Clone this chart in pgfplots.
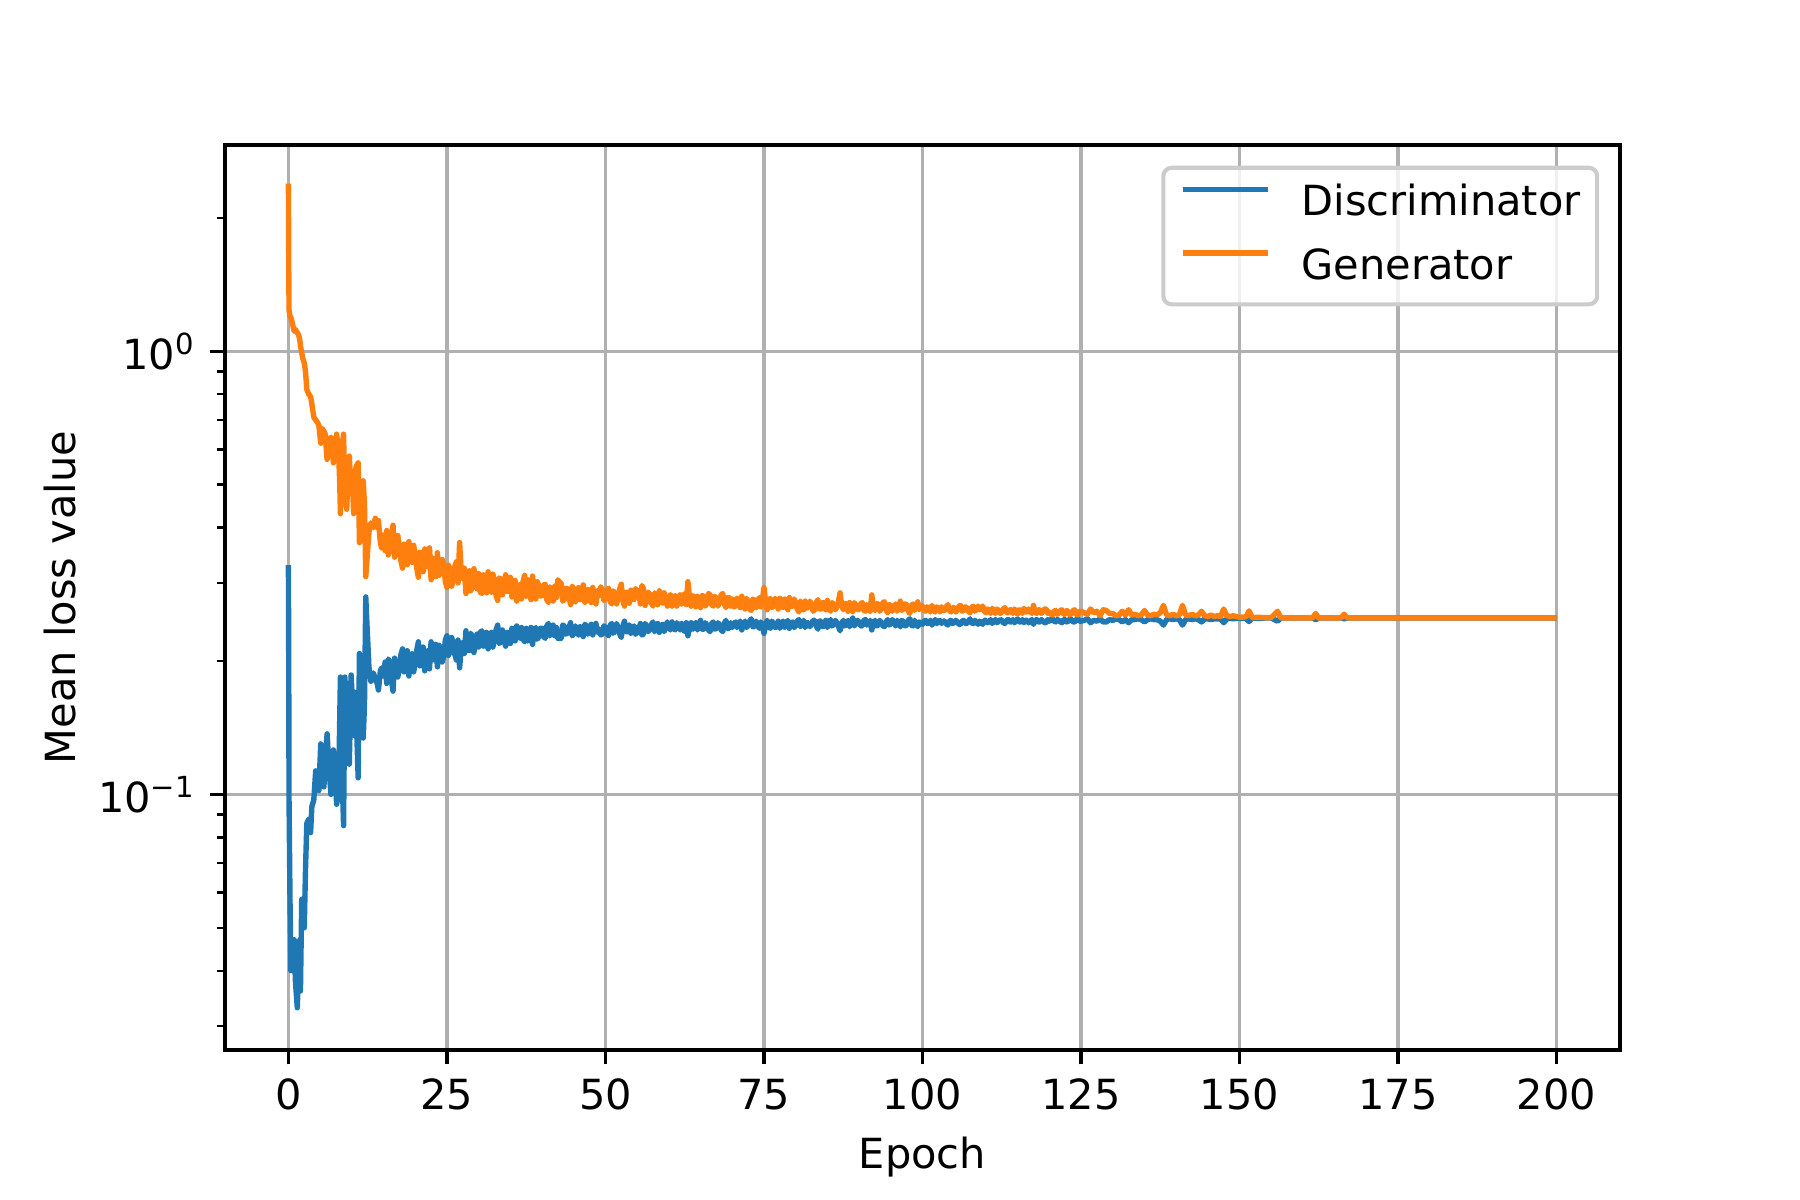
\documentclass[border=0pt]{standalone}
\usepackage{fontspec}
\setmainfont{DejaVu Sans}
\usepackage{pgfplots}
\usepackage{pgfplotstable}
\pgfplotsset{compat=1.18}
\definecolor{c0}{HTML}{1F77B4}
\definecolor{c1}{HTML}{FF7F0E}
\definecolor{gridc}{HTML}{B0B0B0}
\definecolor{legc}{HTML}{CCCCCC}

\pgfplotstableread{
e D G
0.00 0.329 2.39
0.05 0.200 1.60
0.10 0.097 1.24
0.25 0.058 1.20
0.40 0.040 1.19
0.60 0.044 1.16
0.90 0.047 1.11
1.10 0.038 1.12
1.40 0.033 1.10
1.60 0.040 1.09
1.80 0.047 1.06
1.90 0.036 1.03
2.10 0.058 0.99
2.30 0.054 0.96
2.50 0.050 0.94
2.70 0.068 0.90
2.90 0.086 0.82
3.20 0.088 0.80
3.50 0.082 0.79
3.70 0.094 0.76
4.00 0.097 0.71
4.30 0.113 0.70
4.60 0.110 0.69
4.80 0.102 0.68
5.10 0.130 0.62
5.30 0.118 0.67
5.60 0.104 0.66
5.80 0.120 0.65
6.10 0.137 0.57
6.40 0.115 0.63
6.70 0.100 0.64
6.90 0.110 0.60
7.10 0.126 0.56
7.40 0.112 0.62
7.60 0.095 0.65
7.90 0.100 0.60
8.10 0.150 0.50
8.20 0.184 0.43
8.40 0.120 0.60
8.70 0.085 0.65
8.90 0.184 0.47
9.20 0.150 0.44
9.40 0.178 0.55
9.60 0.117 0.58
9.90 0.186 0.48
10.10 0.160 0.50
10.30 0.136 0.43
10.50 0.170 0.53
10.70 0.150 0.55
11.00 0.109 0.56
11.20 0.208 0.37
11.40 0.150 0.47
11.60 0.160 0.50
11.80 0.134 0.51
12.00 0.160 0.45
12.20 0.279 0.31
12.40 0.240 0.34
12.70 0.194 0.39
13.00 0.180 0.41
13.40 0.188 0.40
13.70 0.182 0.42
14.00 0.178 0.40
14.20 0.172 0.415
14.50 0.190 0.37
14.70 0.193 0.36
15.00 0.185 0.385
15.25 0.199 0.355
15.50 0.178 0.394
15.75 0.202 0.347
16.00 0.199 0.358
16.25 0.181 0.387
16.50 0.171 0.405
16.75 0.203 0.343
17.00 0.194 0.365
17.25 0.184 0.384
17.50 0.192 0.360
17.75 0.207 0.336
18.00 0.213 0.324
18.25 0.189 0.367
18.50 0.197 0.353
18.75 0.211 0.330
19.00 0.185 0.372
19.25 0.205 0.341
19.50 0.208 0.334
19.75 0.189 0.365
20.00 0.198 0.347
20.25 0.212 0.323
20.50 0.221 0.309
20.75 0.195 0.352
21.00 0.202 0.341
21.25 0.215 0.318
21.50 0.190 0.358
21.75 0.206 0.332
22.00 0.211 0.326
22.25 0.192 0.360
22.50 0.221 0.305
22.75 0.201 0.342
23.00 0.202 0.337
23.25 0.218 0.310
23.50 0.194 0.351
23.75 0.217 0.312
24.00 0.212 0.319
24.25 0.199 0.339
24.50 0.205 0.331
24.75 0.223 0.302
25.00 0.228 0.293
25.25 0.206 0.329
25.50 0.210 0.322
25.75 0.226 0.295
26.00 0.219 0.306
26.25 0.207 0.327
26.50 0.201 0.335
26.75 0.223 0.300
27.00 0.193 0.370
27.25 0.213 0.318
27.50 0.220 0.307
27.75 0.208 0.324
28.00 0.234 0.284
28.25 0.212 0.317
28.50 0.211 0.320
28.75 0.231 0.288
29.00 0.227 0.294
29.25 0.209 0.323
29.50 0.218 0.310
29.75 0.230 0.291
30.00 0.215 0.315
30.25 0.232 0.286
30.50 0.234 0.284
30.75 0.216 0.313
31.00 0.225 0.298
31.25 0.232 0.285
31.50 0.213 0.318
31.75 0.226 0.295
32.00 0.232 0.286
32.25 0.215 0.314
32.50 0.224 0.301
32.75 0.235 0.281
33.00 0.241 0.274
33.25 0.219 0.308
33.50 0.221 0.306
33.75 0.235 0.282
34.00 0.225 0.298
34.25 0.216 0.313
34.50 0.232 0.287
34.75 0.225 0.300
35.00 0.219 0.309
35.25 0.237 0.279
35.50 0.232 0.286
35.75 0.222 0.304
36.00 0.240 0.273
36.25 0.228 0.293
36.50 0.225 0.298
36.75 0.238 0.276
37.00 0.224 0.302
37.25 0.221 0.312
37.50 0.237 0.280
37.75 0.222 0.305
38.00 0.230 0.290
38.25 0.238 0.275
38.50 0.218 0.311
38.75 0.234 0.285
39.00 0.238 0.276
39.25 0.224 0.302
39.50 0.227 0.296
39.75 0.237 0.280
40.00 0.237 0.281
40.25 0.227 0.297
40.50 0.225 0.298
40.75 0.240 0.275
41.00 0.243 0.271
41.25 0.228 0.294
41.50 0.231 0.289
41.75 0.241 0.273
42.00 0.228 0.295
42.25 0.238 0.278
42.50 0.225 0.305
42.75 0.225 0.301
43.00 0.225 0.300
43.25 0.241 0.273
43.50 0.240 0.275
43.75 0.230 0.292
44.00 0.231 0.291
44.25 0.238 0.279
44.50 0.244 0.268
44.75 0.228 0.295
45.00 0.230 0.291
45.25 0.240 0.272
45.50 0.235 0.282
45.75 0.229 0.293
46.00 0.239 0.275
46.25 0.232 0.288
46.50 0.227 0.297
46.75 0.242 0.271
47.00 0.240 0.274
47.25 0.230 0.290
47.50 0.235 0.284
47.75 0.242 0.271
48.00 0.229 0.293
48.25 0.237 0.278
48.50 0.243 0.269
48.75 0.232 0.288
49.00 0.236 0.281
49.25 0.229 0.294
49.50 0.230 0.290
49.75 0.240 0.274
50.00 0.238 0.276
50.25 0.230 0.289
50.50 0.228 0.292
50.75 0.241 0.272
51.00 0.243 0.269
51.25 0.231 0.288
51.50 0.234 0.283
51.75 0.243 0.269
52.00 0.238 0.278
52.25 0.230 0.291
52.50 0.226 0.298
52.75 0.240 0.273
53.00 0.246 0.266
53.25 0.233 0.286
53.50 0.233 0.285
53.75 0.241 0.270
54.00 0.231 0.289
54.25 0.238 0.276
54.50 0.240 0.275
54.75 0.230 0.291
55.00 0.238 0.279
55.25 0.232 0.288
55.50 0.243 0.269
55.75 0.229 0.296
56.00 0.230 0.291
56.25 0.243 0.267
56.50 0.240 0.273
56.75 0.233 0.286
57.00 0.236 0.282
57.25 0.242 0.270
57.50 0.245 0.266
57.75 0.233 0.285
58.00 0.236 0.280
58.25 0.243 0.268
58.50 0.232 0.288
58.75 0.240 0.273
59.00 0.242 0.270
59.25 0.233 0.285
59.50 0.238 0.277
59.75 0.245 0.266
60.00 0.239 0.276
60.25 0.235 0.282
60.50 0.245 0.266
60.75 0.237 0.278
61.00 0.235 0.281
61.25 0.244 0.266
61.50 0.240 0.273
61.75 0.235 0.282
62.00 0.243 0.269
62.25 0.236 0.280
62.50 0.233 0.284
62.75 0.244 0.268
63.00 0.228 0.302
63.25 0.237 0.278
63.50 0.244 0.266
63.75 0.236 0.281
64.00 0.237 0.278
64.25 0.244 0.265
64.50 0.235 0.280
64.75 0.240 0.272
65.00 0.247 0.264
65.25 0.236 0.281
65.50 0.236 0.280
65.75 0.244 0.266
66.00 0.241 0.270
66.25 0.235 0.284
66.50 0.233 0.282
66.75 0.243 0.268
67.00 0.245 0.266
67.25 0.236 0.280
67.50 0.237 0.277
67.75 0.244 0.266
68.00 0.241 0.272
68.25 0.235 0.282
68.50 0.233 0.284
68.75 0.243 0.269
69.00 0.247 0.264
69.25 0.237 0.278
69.50 0.237 0.278
69.75 0.244 0.266
70.00 0.238 0.276
70.25 0.243 0.265
70.50 0.245 0.266
70.75 0.238 0.277
71.00 0.242 0.270
71.25 0.246 0.264
71.50 0.235 0.280
71.75 0.242 0.268
72.00 0.246 0.262
72.25 0.238 0.277
72.50 0.241 0.272
72.75 0.246 0.262
73.00 0.249 0.260
73.25 0.239 0.276
73.50 0.239 0.274
73.75 0.246 0.264
74.00 0.241 0.272
74.25 0.237 0.278
74.50 0.245 0.265
74.75 0.239 0.274
75.00 0.231 0.293
75.25 0.241 0.273
75.50 0.247 0.261
75.75 0.239 0.274
76.00 0.237 0.277
76.25 0.246 0.264
76.50 0.243 0.266
76.75 0.238 0.277
77.00 0.239 0.273
77.25 0.246 0.262
77.50 0.237 0.277
77.75 0.243 0.266
78.00 0.246 0.264
78.25 0.238 0.276
78.50 0.242 0.269
78.75 0.247 0.261
79.00 0.237 0.278
79.25 0.243 0.266
79.50 0.245 0.266
79.75 0.238 0.276
80.00 0.240 0.271
80.25 0.246 0.262
80.50 0.248 0.258
80.75 0.239 0.273
81.00 0.242 0.269
81.25 0.247 0.261
81.50 0.238 0.273
81.75 0.244 0.263
82.00 0.244 0.265
82.25 0.239 0.273
82.50 0.243 0.267
82.75 0.247 0.259
83.00 0.247 0.261
83.25 0.240 0.271
83.50 0.236 0.275
83.75 0.246 0.262
84.00 0.246 0.262
84.25 0.239 0.271
84.50 0.240 0.270
84.75 0.247 0.261
85.00 0.238 0.274
85.25 0.244 0.263
85.50 0.248 0.259
85.75 0.240 0.271
86.00 0.242 0.267
86.25 0.247 0.261
86.50 0.244 0.265
86.75 0.239 0.273
87.00 0.234 0.285
87.25 0.243 0.267
87.50 0.247 0.261
87.75 0.240 0.270
88.00 0.242 0.269
88.25 0.247 0.259
88.50 0.239 0.271
88.75 0.244 0.263
89.00 0.250 0.258
89.25 0.240 0.271
89.50 0.243 0.267
89.75 0.247 0.261
90.00 0.245 0.261
90.25 0.240 0.269
90.50 0.240 0.271
90.75 0.247 0.260
91.00 0.248 0.259
91.25 0.241 0.268
91.50 0.243 0.265
91.75 0.247 0.259
92.00 0.235 0.282
92.25 0.244 0.264
92.50 0.247 0.260
92.75 0.240 0.269
93.00 0.241 0.269
93.25 0.247 0.259
93.50 0.244 0.263
93.75 0.240 0.271
94.00 0.239 0.272
94.25 0.245 0.261
94.50 0.248 0.257
94.75 0.241 0.268
95.00 0.243 0.267
95.25 0.248 0.259
95.50 0.244 0.264
95.75 0.240 0.269
96.00 0.247 0.259
96.25 0.243 0.265
96.50 0.239 0.273
96.75 0.247 0.260
97.00 0.245 0.263
97.25 0.240 0.269
97.50 0.241 0.268
97.75 0.247 0.259
98.00 0.249 0.256
98.25 0.241 0.267
98.50 0.240 0.269
98.75 0.247 0.260
99.00 0.243 0.265
99.25 0.239 0.272
99.50 0.245 0.261
99.75 0.243 0.267
100.00 0.242 0.266
100.25 0.246 0.260
100.50 0.247 0.259
100.75 0.243 0.265
101.00 0.244 0.263
101.25 0.247 0.258
101.50 0.241 0.267
101.75 0.245 0.261
102.00 0.248 0.258
102.25 0.243 0.265
102.50 0.245 0.263
102.75 0.247 0.258
103.00 0.243 0.265
103.25 0.246 0.260
103.50 0.246 0.260
103.75 0.243 0.265
104.00 0.241 0.268
104.25 0.246 0.260
104.50 0.247 0.258
104.75 0.243 0.264
105.00 0.244 0.264
105.25 0.247 0.258
105.50 0.245 0.261
105.75 0.242 0.266
106.00 0.242 0.267
106.25 0.246 0.259
106.50 0.247 0.260
106.75 0.243 0.265
107.00 0.243 0.264
107.25 0.246 0.259
107.50 0.249 0.257
107.75 0.244 0.264
108.00 0.243 0.266
108.25 0.247 0.259
108.50 0.245 0.262
108.75 0.242 0.266
109.00 0.246 0.261
109.25 0.244 0.263
109.50 0.242 0.266
109.75 0.247 0.259
110.00 0.247 0.257
110.25 0.244 0.262
110.50 0.245 0.261
110.75 0.248 0.256
111.00 0.243 0.263
111.25 0.246 0.259
111.50 0.248 0.256
111.75 0.244 0.262
112.00 0.246 0.260
112.25 0.248 0.256
112.50 0.247 0.258
112.75 0.244 0.262
113.00 0.243 0.264
113.25 0.247 0.257
113.50 0.248 0.257
113.75 0.245 0.261
114.00 0.245 0.261
114.25 0.248 0.256
114.50 0.244 0.262
114.75 0.246 0.259
115.00 0.249 0.255
115.25 0.245 0.261
115.50 0.245 0.260
115.75 0.248 0.256
116.00 0.244 0.263
116.25 0.247 0.258
116.50 0.247 0.258
116.75 0.244 0.262
117.00 0.246 0.259
117.25 0.248 0.256
117.50 0.242 0.267
117.75 0.247 0.258
118.00 0.248 0.256
118.25 0.245 0.261
118.50 0.245 0.261
118.75 0.248 0.256
119.00 0.246 0.259
119.25 0.244 0.262
119.50 0.244 0.262
119.75 0.248 0.256
120.00 0.246 0.258
120.25 0.248 0.255
120.50 0.249 0.254
120.75 0.246 0.259
121.00 0.245 0.260
121.25 0.248 0.255
121.50 0.247 0.257
121.75 0.245 0.260
122.00 0.244 0.261
122.25 0.248 0.255
122.50 0.248 0.255
122.75 0.245 0.260
123.00 0.246 0.258
123.25 0.249 0.254
123.50 0.248 0.256
123.75 0.245 0.260
124.00 0.245 0.261
124.25 0.248 0.255
124.50 0.249 0.254
124.75 0.246 0.259
125.0 0.246 0.259
125.5 0.247 0.257
126.0 0.249 0.255
126.5 0.244 0.262
127.0 0.247 0.257
127.5 0.246 0.259
128.0 0.249 0.253
128.5 0.245 0.261
129.0 0.245 0.260
129.5 0.248 0.256
130.0 0.247 0.256
130.5 0.249 0.253
131.0 0.248 0.254
131.5 0.245 0.259
132.0 0.248 0.254
132.5 0.244 0.261
133.0 0.248 0.254
133.5 0.248 0.255
134.0 0.249 0.253
134.5 0.248 0.254
135.0 0.245 0.260
135.5 0.248 0.254
136.0 0.249 0.253
136.5 0.248 0.255
137.0 0.248 0.254
137.5 0.246 0.257
138.0 0.241 0.267
138.5 0.248 0.254
139.0 0.249 0.253
139.5 0.248 0.255
140.0 0.249 0.253
140.5 0.248 0.254
141.0 0.241 0.267
141.5 0.248 0.254
142.0 0.249 0.253
142.5 0.248 0.255
143.0 0.249 0.253
143.5 0.248 0.254
144.0 0.245 0.259
144.5 0.249 0.253
145.0 0.249 0.252
145.5 0.248 0.254
146.0 0.249 0.252
146.5 0.249 0.253
147.0 0.249 0.252
147.5 0.244 0.262
148.0 0.249 0.253
148.5 0.2495 0.252
149.0 0.249 0.253
149.5 0.2495 0.252
150.0 0.250 0.251
151.0 0.2495 0.2515
151.5 0.2455 0.2595
152.0 0.2500 0.2505
153.0 0.2495 0.251
154.0 0.2500 0.2505
155.0 0.2500 0.2505
156.0 0.2460 0.2590
156.5 0.2500 0.2505
158.0 0.2500 0.2500
161.5 0.2500 0.2500
162.0 0.2480 0.2560
162.5 0.2500 0.2500
166.0 0.2500 0.2500
166.5 0.2490 0.2550
167.0 0.2500 0.2500
200 0.250 0.250
}\losstable

\begin{document}
\fontsize{10}{12}\selectfont
\begin{tikzpicture}
\path[use as bounding box] (0,0) rectangle (6in,4in);
\begin{axis}[
  at={(0.75in,0.5in)}, anchor=south west,
  scale only axis,
  width=4.65in, height=3.0167in,
  ymode=log,
  xmin=-10, xmax=210,
  ymin=0.0265, ymax=2.92,
  xtick={0,25,...,200},
  ytick={0.1,1},
  yticklabels={10\textsuperscript{−1},10\textsuperscript{0}},
  minor ytick={0.03,0.04,0.05,0.06,0.07,0.08,0.09,0.2,0.3,0.4,0.5,0.6,0.7,0.8,0.9,2},
  /pgf/number format/assume math mode=true,
  log ticks with fixed point=false,
  tick align=outside,
  tick pos=left,
  major tick length=3.5pt,
  minor tick length=2pt,
  every tick/.style={black, line width=0.8pt},
  minor tick style={black, line width=0.6pt},
  axis line style={black, line width=0.8pt},
  xmajorgrids, ymajorgrids,
  major grid style={gridc, line width=0.8pt},
  minor grid style={draw=none},
  tick label style={font=\fontsize{10}{12}\selectfont},
  xlabel={Epoch}, ylabel={Mean loss value},
  label style={font=\fontsize{10}{12}\selectfont},
  every axis x label/.style={at={(axis description cs:0.5,-0.118)}, anchor=center},
  every axis y label/.style={at={(axis description cs:-0.118,0.5)}, rotate=90, anchor=center},
  legend cell align=left,
  legend image code/.code={\draw[#1] (0pt,3.6pt) -- (20.5pt,3.6pt);},
  legend style={
    at={(1,1)}, anchor=north east, xshift=-5pt, yshift=-5pt,
    draw=legc, line width=1pt, rounded corners=2pt,
    fill=white, fill opacity=0.8, draw opacity=1, text opacity=1,
    inner xsep=4pt, inner ysep=4pt, row sep=5.9pt,
    font=\fontsize{10}{12}\selectfont,
    nodes={inner sep=0pt, text height=7.5pt, text depth=2pt},
    /tikz/every odd column/.append style={column sep=7.5pt},
  },
]
\addplot[c0, line width=1.3pt, line join=round] table[x=e, y=D] {\losstable};
\addlegendentry{Discriminator}
\addplot[c1, line width=1.3pt, line join=round] table[x=e, y=G] {\losstable};
\addlegendentry{Generator}
\end{axis}
\end{tikzpicture}
\end{document}
